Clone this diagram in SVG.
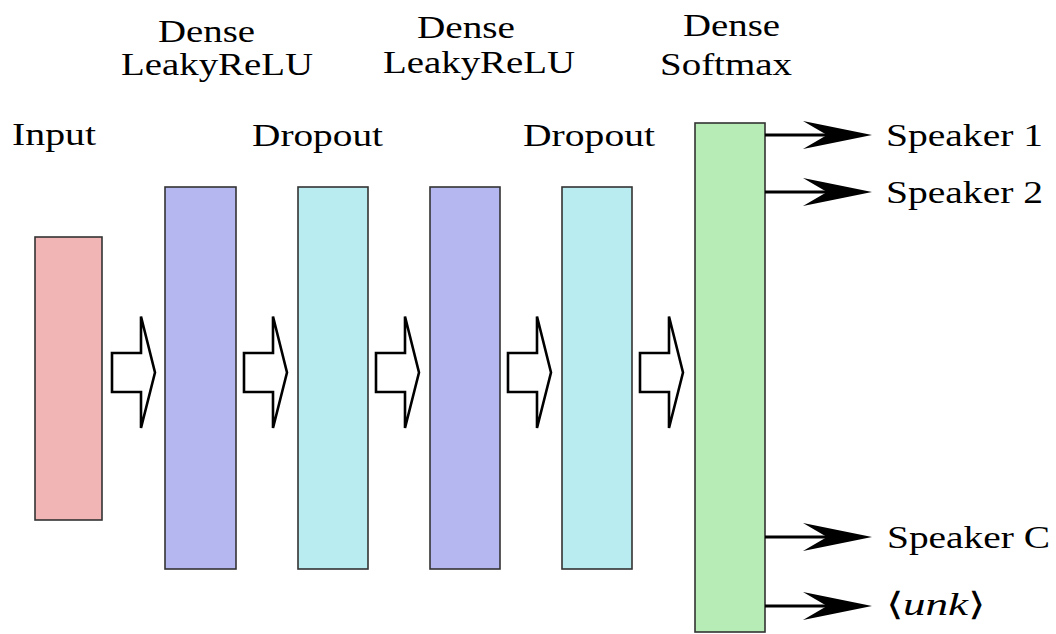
<svg xmlns="http://www.w3.org/2000/svg" width="1056" height="634" viewBox="0 0 1056 634">
<style>
text{font-family:"Liberation Serif",serif;font-size:32px;fill:#000}
.box{stroke:#333;stroke-width:1.6}
.inp{fill:#f2b5b6}
.dense{fill:#b5b8f0}
.drop{fill:#b8ecf0}
.soft{fill:#b8ecb6}
.hollow{fill:#fff;stroke:#000;stroke-width:2.6;stroke-linejoin:miter}
.out{stroke:#000;stroke-width:3;fill:none}
</style>
<defs>
<path id="harrow" d="M0,-19.5 H29 V-56 L43,0 L29,55.5 V19.5 H0 Z"/>
<path id="stealth" d="M0,0 L-69,-14 L-45,0 L-69,14 Z"/>
</defs>
<g id="input">
<rect class="box inp" x="35" y="237" width="67" height="283"/>
<text x="12" y="145" textLength="84" lengthAdjust="spacingAndGlyphs">Input</text>
</g>
<g id="dense1">
<rect class="box dense" x="165" y="187" width="71" height="382"/>
<text x="158" y="42" textLength="97" lengthAdjust="spacingAndGlyphs">Dense</text>
<text x="121" y="75" textLength="192" lengthAdjust="spacingAndGlyphs">LeakyReLU</text>
</g>
<g id="dropout1">
<rect class="box drop" x="298" y="187" width="70" height="382"/>
<text x="252" y="146" textLength="131" lengthAdjust="spacingAndGlyphs">Dropout</text>
</g>
<g id="dense2">
<rect class="box dense" x="430" y="187" width="70" height="382"/>
<text x="417" y="38" textLength="98" lengthAdjust="spacingAndGlyphs">Dense</text>
<text x="383" y="73" textLength="192" lengthAdjust="spacingAndGlyphs">LeakyReLU</text>
</g>
<g id="dropout2">
<rect class="box drop" x="562" y="187" width="70" height="382"/>
<text x="523" y="146" textLength="132" lengthAdjust="spacingAndGlyphs">Dropout</text>
</g>
<g id="softmax">
<rect class="box soft" x="695" y="123" width="70" height="509"/>
<text x="683" y="36" textLength="97" lengthAdjust="spacingAndGlyphs">Dense</text>
<text x="660" y="75" textLength="132" lengthAdjust="spacingAndGlyphs">Softmax</text>
</g>
<g id="out-labels">
<text x="886" y="146" textLength="157" lengthAdjust="spacingAndGlyphs">Speaker 1</text>
<text x="886" y="203" textLength="157" lengthAdjust="spacingAndGlyphs">Speaker 2</text>
<text x="887" y="548" textLength="163" lengthAdjust="spacingAndGlyphs">Speaker C</text>
<text x="886" y="615" textLength="99" lengthAdjust="spacingAndGlyphs">⟨<tspan font-style="italic">unk</tspan>⟩</text>
</g>
<g id="connectors">
<use href="#harrow" class="hollow" x="112" y="372.5"/>
<use href="#harrow" class="hollow" x="244" y="372.5"/>
<use href="#harrow" class="hollow" x="376" y="372.5"/>
<use href="#harrow" class="hollow" x="508" y="372.5"/>
<use href="#harrow" class="hollow" x="640" y="372.5"/>
<line class="out" x1="765" y1="135" x2="840" y2="135"/>
<use href="#stealth" x="872" y="135"/>
<line class="out" x1="765" y1="192" x2="840" y2="192"/>
<use href="#stealth" x="872" y="192"/>
<line class="out" x1="765" y1="537" x2="840" y2="537"/>
<use href="#stealth" x="872" y="537"/>
<line class="out" x1="765" y1="606" x2="840" y2="606"/>
<use href="#stealth" x="872" y="606"/>
</g>
</svg>
